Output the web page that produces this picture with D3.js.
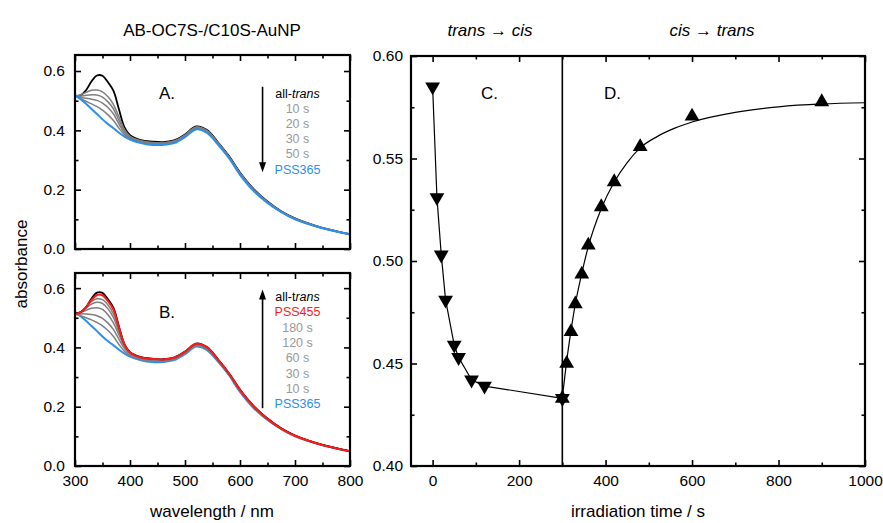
<!DOCTYPE html>
<html><head><meta charset="utf-8">
<script src="https://cdn.jsdelivr.net/npm/d3@7"></script>
<style>
body{margin:0;background:#fff}
text{font-family:"Liberation Sans",Arial,Helvetica,sans-serif}
</style>
</head><body>
<svg id="chart" width="883" height="523"></svg>
<script>
// ---------- DATA ----------
const wavelengths = [300,310,320,330,340,350,360,370,380,390,400,420,440,460,480,500,520,540,560,580,600,625,650,675,700,750,800];
const allTrans = [0.515,0.518,0.535,0.565,0.585,0.584,0.562,0.533,0.470,0.410,0.384,0.367,0.362,0.360,0.366,0.386,0.413,0.401,0.360,0.313,0.258,0.202,0.160,0.127,0.103,0.071,0.050];
const pss365   = [0.520,0.505,0.490,0.472,0.455,0.437,0.421,0.407,0.392,0.379,0.369,0.357,0.351,0.351,0.357,0.377,0.403,0.391,0.352,0.306,0.250,0.195,0.155,0.124,0.100,0.070,0.049];
// panel A (365 nm irradiation)
const a10s = [0.515,0.520,0.528,0.535,0.536,0.530,0.513,0.487,0.445,0.402,0.380,0.365,0.359,0.358,0.364,0.384,0.411,0.399,0.358,0.311,0.256,0.200,0.159,0.126,0.102,0.071,0.050];
const a20s = [0.515,0.515,0.518,0.520,0.519,0.512,0.496,0.472,0.433,0.397,0.377,0.363,0.357,0.357,0.363,0.383,0.410,0.398,0.357,0.310,0.255,0.199,0.158,0.126,0.102,0.071,0.050];
const a30s = [0.515,0.511,0.508,0.505,0.501,0.492,0.477,0.455,0.421,0.391,0.374,0.361,0.356,0.356,0.362,0.382,0.409,0.397,0.356,0.309,0.254,0.198,0.157,0.125,0.101,0.071,0.050];
const a50s = [0.516,0.507,0.498,0.489,0.480,0.468,0.452,0.433,0.407,0.385,0.372,0.359,0.354,0.354,0.360,0.380,0.407,0.395,0.355,0.308,0.253,0.197,0.157,0.125,0.101,0.070,0.050];
// panel B (455 nm irradiation)
const b10s  = [0.512,0.507,0.500,0.493,0.484,0.473,0.457,0.437,0.410,0.387,0.373,0.360,0.354,0.354,0.360,0.380,0.406,0.394,0.354,0.308,0.252,0.197,0.156,0.125,0.101,0.070,0.050];
const b30s  = [0.512,0.513,0.513,0.511,0.507,0.498,0.482,0.460,0.427,0.396,0.377,0.362,0.356,0.356,0.362,0.382,0.408,0.396,0.356,0.309,0.254,0.198,0.157,0.125,0.101,0.071,0.050];
const b60s  = [0.512,0.517,0.525,0.532,0.534,0.528,0.510,0.482,0.442,0.403,0.380,0.364,0.358,0.357,0.363,0.383,0.409,0.397,0.357,0.310,0.255,0.199,0.158,0.126,0.102,0.071,0.050];
const b120s = [0.512,0.519,0.533,0.546,0.552,0.548,0.530,0.500,0.452,0.407,0.382,0.365,0.359,0.358,0.364,0.384,0.410,0.398,0.358,0.311,0.256,0.200,0.158,0.126,0.102,0.071,0.050];
const b180s = [0.513,0.520,0.537,0.555,0.564,0.561,0.543,0.512,0.460,0.410,0.383,0.366,0.360,0.359,0.364,0.384,0.411,0.399,0.358,0.311,0.256,0.200,0.159,0.126,0.102,0.071,0.050];
const pss455 = [0.513,0.518,0.535,0.560,0.577,0.576,0.556,0.527,0.466,0.410,0.383,0.366,0.361,0.359,0.365,0.385,0.412,0.400,0.359,0.312,0.257,0.201,0.159,0.126,0.102,0.071,0.050];

// kinetics
const transCisTime = [0,10,20,30,50,60,90,120,300];
const transCisAbs  = [0.585,0.531,0.503,0.481,0.459,0.453,0.442,0.439,0.433];
const cisTransTime = [300,310,320,330,345,360,390,420,480,600,900];
const cisTransAbs  = [0.433,0.450,0.4655,0.479,0.4935,0.5077,0.5264,0.5386,0.5557,0.5706,0.5776];
const fitTime = [300,310,320,330,345,360,390,420,450,480,520,560,600,700,800,900,1000];
const fitAbs  = [0.433,0.451,0.466,0.479,0.494,0.507,0.5255,0.5385,0.548,0.5552,0.5608,0.5648,0.5678,0.5725,0.5752,0.5766,0.5772];

const legendA = [["all-","trans","#000"],["10 s","","#999"],["20 s","","#999"],["30 s","","#999"],["50 s","","#999"],["PSS365","","#2b8ff0"]];
const legendB = [["all-t","rans","#000"],["PSS455","","#ff1a1a"],["180 s","","#999"],["120 s","","#999"],["60 s","","#999"],["30 s","","#999"],["10 s","","#999"],["PSS365","","#2b8ff0"]];

const specTicks = [0,0.2,0.4,0.6], specMinor=[0.1,0.3,0.5];
const wlTicks = [300,400,500,600,700,800], wlMinor=[350,450,550,650,750];
const kinYTicks = [0.40,0.45,0.50,0.55,0.60], kinYMinor=[0.425,0.475,0.525,0.575];
const kinXTicks = [0,200,400,600,800,1000], kinXMinor=[100,300,500,700,900];

// ---------- DRAW ----------
const svg = d3.select("#chart");
const BLUE="#2b8ff0", RED="#ff1a1a", GRAY="#7f7f7f";

function frame(g, x, y, xMaj, xMin, yMaj, yMin, xFmt, yFmt, showXLabels, padY){
  const [x0,x1]=x.range(), [yb,yt]=y.range();
  const add=(axis,tr)=>{const a=g.append("g").attr("transform",tr).call(axis);a.select(".domain").remove();
    a.selectAll("line").attr("stroke","#000").attr("stroke-width",1.6);
    a.selectAll("text").attr("font-size",15.5).attr("fill","#000").attr("font-family","Liberation Sans, Arial, sans-serif");return a;};
  add(d3.axisLeft(y).tickValues(yMaj).tickSize(-6).tickPadding(padY).tickFormat(yFmt),`translate(${x0},0)`);
  add(d3.axisLeft(y).tickValues(yMin).tickSize(-3.5).tickFormat(""),`translate(${x0},0)`);
  add(d3.axisRight(y).tickValues(yMaj).tickSize(-6).tickFormat(""),`translate(${x1},0)`);
  add(d3.axisRight(y).tickValues(yMin).tickSize(-3.5).tickFormat(""),`translate(${x1},0)`);
  add(d3.axisBottom(x).tickValues(xMaj).tickSize(-6).tickPadding(9).tickFormat(showXLabels?xFmt:""),`translate(0,${yb})`);
  add(d3.axisBottom(x).tickValues(xMin).tickSize(-3.5).tickFormat(""),`translate(0,${yb})`);
  add(d3.axisTop(x).tickValues(xMaj).tickSize(-6).tickFormat(""),`translate(0,${yt})`);
  add(d3.axisTop(x).tickValues(xMin).tickSize(-3.5).tickFormat(""),`translate(0,${yt})`);
  g.append("rect").attr("x",x0).attr("y",yt).attr("width",x1-x0).attr("height",yb-yt)
    .attr("fill","none").attr("stroke","#000").attr("stroke-width",2.2);
}

const xW = d3.scaleLinear().domain([300,800]).range([75,350]);
const yA = d3.scaleLinear().domain([0,0.654]).range([249,55]);
const yB = d3.scaleLinear().domain([0,0.651]).range([466,273]);

function spectra(g, y, series){
  const line = d3.line().x((d,i)=>xW(wavelengths[i])).y(d=>y(d)).curve(d3.curveCatmullRom.alpha(0.5));
  series.forEach(([vals,col,w])=>{
    g.append("path").attr("d",line(vals)).attr("fill","none").attr("stroke",col).attr("stroke-width",w).attr("stroke-linejoin","round");
  });
}

function legend(g, items, xc, y0, dy){
  items.forEach((it,i)=>{
    const t=g.append("text").attr("x",xc).attr("y",y0+i*dy).attr("text-anchor","middle").attr("font-size",12.5).attr("fill",it[2]);
    t.append("tspan").text(it[0]);
    if(it[1]) t.append("tspan").attr("font-style","italic").text(it[1]);
  });
}

function arrow(g, x, y1, y2){ // head at y2
  const dir = y2>y1?1:-1;
  g.append("line").attr("x1",x).attr("x2",x).attr("y1",y1).attr("y2",y2-dir*8).attr("stroke","#000").attr("stroke-width",1.6);
  g.append("path").attr("d",`M${x-3.5},${y2-dir*10}L${x+3.5},${y2-dir*10}L${x},${y2}Z`).attr("fill","#000");
}

// Panel A
const gA = svg.append("g");
spectra(gA, yA, [[allTrans,"#000",1.8],[a10s,GRAY,1.5],[a20s,GRAY,1.5],[a30s,GRAY,1.5],[a50s,GRAY,1.5],[pss365,BLUE,2]]);
frame(gA, xW, yA, wlTicks, wlMinor, specTicks, specMinor, d3.format("d"), d3.format(".1f"), false, 10);
gA.append("text").attr("x",159).attr("y",99).attr("font-size",17).text("A.");
arrow(gA, xW(641), yA(0.547), yA(0.259));
legend(gA, legendA, 297.5, 97.5, 15.2);

// Panel B
const gB = svg.append("g");
spectra(gB, yB, [[pss365,BLUE,2],[b10s,GRAY,1.5],[b30s,GRAY,1.5],[b60s,GRAY,1.5],[b120s,GRAY,1.5],[b180s,GRAY,1.5],[allTrans,"#000",1.8],[pss455,RED,2]]);
frame(gB, xW, yB, wlTicks, wlMinor, specTicks, specMinor, d3.format("d"), d3.format(".1f"), true, 10);
gB.append("text").attr("x",159).attr("y",318).attr("font-size",17).text("B.");
arrow(gB, xW(641), yB(0.195), yB(0.595));
legend(gB, legendB, 297.5, 301, 15.3);

// Panel C/D
const xT = d3.scaleLinear().domain([-50,1000]).range([411,865]);
const yK = d3.scaleLinear().domain([0.40,0.60]).range([466,56]);
const gK = svg.append("g");
gK.append("line").attr("x1",xT(300)).attr("x2",xT(300)).attr("y1",yK(0.6)).attr("y2",yK(0.4)).attr("stroke","#000").attr("stroke-width",1.6);
const lin = d3.line().x(d=>xT(d[0])).y(d=>yK(d[1]));
gK.append("path").attr("d",lin(transCisTime.map((t,i)=>[t,transCisAbs[i]]))).attr("fill","none").attr("stroke","#000").attr("stroke-width",1.2);
gK.append("path").attr("d",lin.curve(d3.curveMonotoneX)(fitTime.map((t,i)=>[t,fitAbs[i]]))).attr("fill","none").attr("stroke","#000").attr("stroke-width",1.2);
const tri = d3.symbol().type(d3.symbolTriangle).size(95);
transCisTime.forEach((t,i)=>{
  gK.append("path").attr("d",tri()).attr("transform",`translate(${xT(t)},${yK(transCisAbs[i])}) rotate(180)`).attr("fill","#000");
});
cisTransTime.forEach((t,i)=>{
  gK.append("path").attr("d",tri()).attr("transform",`translate(${xT(t)},${yK(cisTransAbs[i])})`).attr("fill","#000");
});
frame(gK, xT, yK, kinXTicks, kinXMinor, kinYTicks, kinYMinor, d3.format("d"), d3.format(".2f"), true, 8);
gK.append("text").attr("x",481).attr("y",99).attr("font-size",17).text("C.");
gK.append("text").attr("x",604).attr("y",99).attr("font-size",17).text("D.");

// Titles
svg.append("text").attr("x",212).attr("y",36).attr("text-anchor","middle").attr("font-size",17).text("AB-OC7S-/C10S-AuNP");
const h1 = svg.append("text").attr("x",490).attr("y",36).attr("text-anchor","middle").attr("font-size",17);
h1.append("tspan").attr("font-style","italic").text("trans");
h1.append("tspan").text(" \u2192 ");
h1.append("tspan").attr("font-style","italic").text("cis");
const h2 = svg.append("text").attr("x",712).attr("y",36).attr("text-anchor","middle").attr("font-size",17);
h2.append("tspan").attr("font-style","italic").text("cis");
h2.append("tspan").text(" \u2192 ");
h2.append("tspan").attr("font-style","italic").text("trans");

// Axis titles
svg.append("text").attr("transform","translate(27,264) rotate(-90)").attr("text-anchor","middle").attr("font-size",17).text("absorbance");
svg.append("text").attr("x",212).attr("y",517).attr("text-anchor","middle").attr("font-size",17).text("wavelength / nm");
svg.append("text").attr("x",638).attr("y",517).attr("text-anchor","middle").attr("font-size",17).text("irradiation time / s");
</script>
</body></html>
